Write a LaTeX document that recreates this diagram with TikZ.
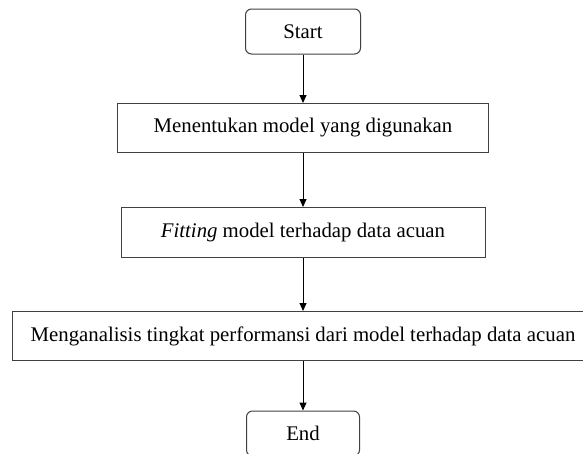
\documentclass[tikz,border=0pt]{standalone}
\usepackage{fontspec}
\setmainfont{Liberation Serif}
\usetikzlibrary{arrows.meta}

\tikzset{
  stepbox/.style={draw=black!75, line width=1pt, minimum height=49pt, inner sep=0pt},
  termbox/.style={stepbox, rounded corners=6pt, minimum width=115pt, minimum height=45pt},
}

\begin{document}
\begin{tikzpicture}[x=1pt,y=-1pt,font=\fontsize{20.8}{25}\selectfont,
  >={Triangle[length=8pt,width=7pt]}]

\useasboundingbox (0,0) rectangle (583,453);

\node [termbox] (start) at (303,31.5) {Start};
\node [stepbox, minimum width=371pt] (model) at (303,128) {Menentukan model yang digunakan};
\node [stepbox, minimum width=364pt, minimum height=50pt] (fit) at (303,232.5) {\textit{Fitting} model terhadap data acuan};
\node [stepbox, minimum width=581pt] (analysis) at (303,336) {Menganalisis tingkat performansi dari model terhadap data acuan};
\node [termbox, minimum width=113pt] (end) at (303,433.5) {End};

\draw [->, line width=1pt] (start) -- (model);
\draw [->, line width=1pt] (model) -- (fit);
\draw [->, line width=1pt] (fit) -- (analysis);
\draw [->, line width=1pt] (analysis) -- (end);

\end{tikzpicture}
\end{document}
